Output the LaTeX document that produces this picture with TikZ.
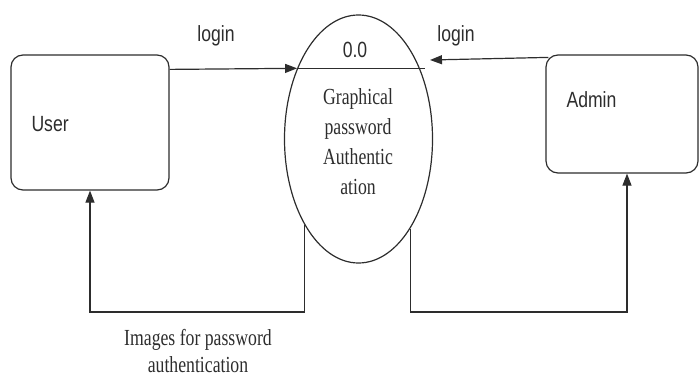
\documentclass[tikz,border=0pt]{standalone}
\usepackage{fontspec}
\setmainfont{Liberation Serif}[FakeStretch=0.77]
\newfontfamily\labelfont{Liberation Sans}[FakeStretch=0.8]
\usetikzlibrary{shapes,positioning,arrows.meta}
\definecolor{ink}{RGB}{45,45,45}

\begin{document}
\begin{tikzpicture}[x=1pt,y=-1pt,color=ink,
  entity/.style={draw,rounded corners=12pt,line width=1.2pt},
  process/.style={draw,ellipse,line width=1.2pt,minimum width=148pt,minimum height=248pt,inner sep=0pt},
  flow/.style={line width=1.2pt,-{Triangle[length=12pt,width=9pt]}},
  lbl/.style={font=\labelfont\fontsize{22}{24}\selectfont},
  txt/.style={font=\fontsize{23}{30}\selectfont,align=center}]
\useasboundingbox (0,0) rectangle (700,377);
\node[entity,minimum width=158pt,minimum height=135pt] (user) at (90,122.5) {};
\node[entity,minimum width=152pt,minimum height=118pt] (admin) at (622,114) {};
\node[process] (proc) at (358.5,139) {};
\node[lbl,anchor=west] (usertxt) at (28,124) {User};
\node[lbl,anchor=west] (admintxt) at (563,100) {Admin};
\node[lbl] (login1) at (216,36) {login};
\node[lbl] (login2) at (456,36) {login};
\node[lbl] (procnum) at (355,50) {0.0};
\node[txt] (proctxt) at (358,142) {Graphical\\password\\Authentic\\ation};
\node[txt,font=\fontsize{23}{27}\selectfont] (imgtxt) at (198,351) {Images for password\\authentication};
\coordinate (adminin) at (430,60);
\coordinate (lowl) at (90,312);
\coordinate (lowr) at (627,312);
% login flows
\draw[flow] ([yshift=-15pt]user.north east) -- (proc.131);
\draw[flow] ([xshift=3pt,yshift=-3pt]admin.north west) -- (adminin);
\draw[line width=1.2pt] (proc.131) -- ([xshift=5pt]proc.49);
% image flows
\draw[flow] (proc.238) |- (lowl) -- (user.south -| lowl);
\draw[flow] (proc.-60) |- (lowr) -- (admin.south -| lowr);
\end{tikzpicture}
\end{document}
